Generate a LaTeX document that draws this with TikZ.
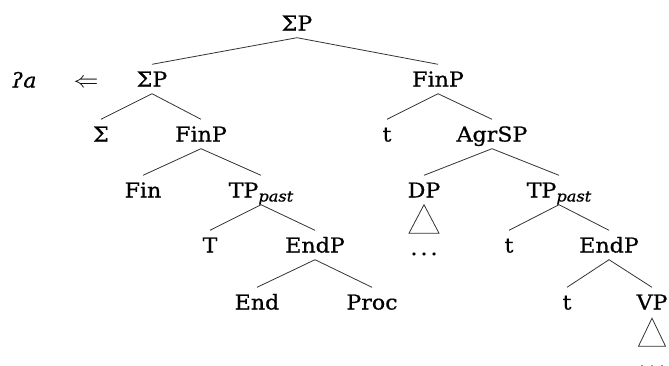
\documentclass[tikz,border=0pt]{standalone}
\usepackage{fontspec}
\setmainfont[FakeBold=0.6,FakeStretch=1.08]{DejaVu Serif}
\begin{document}
\begin{tikzpicture}[x=1pt,y=-1pt,
  lbl/.style={inner xsep=0pt, inner ysep=7pt, text height=15pt, text depth=0pt, anchor=center,
    font=\fontsize{20.5}{24}\selectfont},
  dotsnode/.style={inner sep=0pt, anchor=base, font=\fontsize{20.5}{24}\selectfont},
  edge/.style={draw=black!80, line width=0.8pt},
  tri/.style={draw=black!80, line width=0.8pt, line join=miter}]
\useasboundingbox (0,0) rectangle (669,365);
\newcommand{\pastsub}{\raisebox{-4pt}{\fontsize{15}{15}\selectfont\itshape past}}
% labels
\node[lbl] (root) at (297,23) {ΣP};
\node[lbl] (ga) at (24,80) {\itshape ʔa};
\node[lbl] (arr) at (86,80) {\scalebox{1.2}[1.1]{$\Leftarrow$}};
\node[lbl] (sp2) at (152,79) {ΣP};
\node[lbl] (finpA) at (438,79) {FinP};
\node[lbl] (sig) at (101,134) {Σ};
\node[lbl] (finpB) at (201,134) {FinP};
\node[lbl] (tA) at (387,134) {t};
\node[lbl] (agrsp) at (492,134) {AgrSP};
\node[lbl] (fin) at (143,190) {Fin};
\node[lbl] (tpA) at (261,190) {TP\pastsub};
\node[lbl] (dp) at (424,190) {DP};
\node[lbl] (tpB) at (559,190) {TP\pastsub};
\node[lbl] (T) at (210,245) {T};
\node[lbl] (endpA) at (315,245) {EndP};
\node[dotsnode] (dpdots) at (424,255) {.\hspace{3pt}.\hspace{3pt}.};
\node[lbl] (tB) at (509,245) {t};
\node[lbl] (endpB) at (609,245) {EndP};
\node[lbl] (end) at (257,302) {End};
\node[lbl] (proc) at (372,302) {Proc};
\node[lbl] (tC) at (567,302) {t};
\node[lbl] (vp) at (652,302) {VP};
\node[dotsnode] (vpdots) at (652,368) {.\hspace{3pt}.\hspace{3pt}.};
% edges
\draw[edge] (sp2.north) -- (root.south) -- (finpA.north);
\draw[edge] (sig.north) -- (sp2.south) -- (finpB.north);
\draw[edge] (tA.north) -- (finpA.south) -- (agrsp.north);
\draw[edge] (fin.north) -- (finpB.south) -- (tpA.north);
\draw[edge] (dp.north) -- (agrsp.south) -- (tpB.north);
\draw[edge] (T.north) -- (tpA.south) -- (endpA.north);
\draw[edge] (tB.north) -- (tpB.south) -- (endpB.north);
\draw[edge] (end.north) -- (endpA.south) -- (proc.north);
\draw[edge] (tC.north) -- (endpB.south) -- (vp.north);
% triangles
\draw[tri] (dp.south) -- ++(-15,28.5) -- ++(30,0) -- cycle;
\draw[tri] (vp.south) ++(0,1.5) -- ++(-13.5,28) -- ++(27,0) -- cycle;
\end{tikzpicture}
\end{document}
